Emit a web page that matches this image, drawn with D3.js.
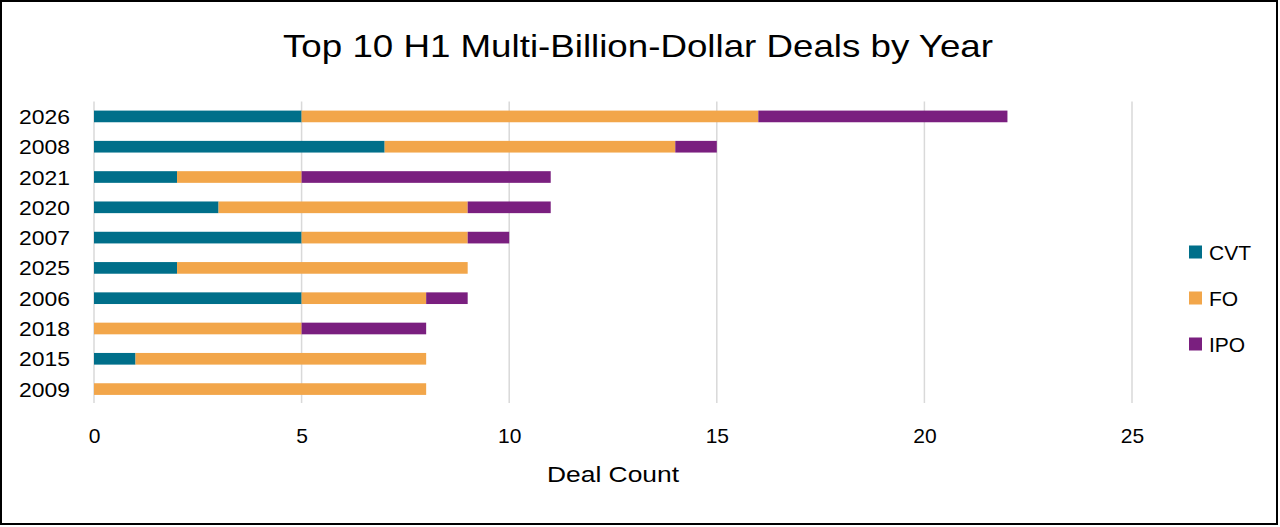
<!DOCTYPE html>
<html>
<head>
<meta charset="utf-8">
<script src="https://cdn.jsdelivr.net/npm/d3@7"></script>
<style>
  body { margin: 0; background: #fff; }
  svg text { font-family: "Liberation Sans", Arial, sans-serif; fill: #000; }
</style>
</head>
<body>
<div id="chart"></div>
<script>
const years = ["2026", "2008", "2021", "2020", "2007", "2025", "2006", "2018", "2015", "2009"]
const cvt = [5, 7, 2, 3, 5, 2, 5, 0, 1, 0]
const fo = [11, 7, 3, 6, 4, 7, 3, 5, 7, 8]
const ipo = [6, 1, 6, 2, 1, 0, 1, 3, 0, 0]
const seriesNames = ["CVT", "FO", "IPO"]
const seriesColors = ["#006F8A", "#F2A64A", "#7A1F7F"]
const xTicks = [0, 5, 10, 15, 20, 25]

const width = 1280, height = 527
const svg = d3.select("#chart").append("svg")
    .attr("width", width)
    .attr("height", height)

svg.append("rect")
    .attr("x", 1).attr("y", 1)
    .attr("width", 1276).attr("height", 523)
    .attr("fill", "#fff")
    .attr("stroke", "#000")
    .attr("stroke-width", 2)

const rows = years.map((y, i) => ({ year: y, CVT: cvt[i], FO: fo[i], IPO: ipo[i] }))
const stacked = d3.stack().keys(seriesNames)(rows)

const x = d3.scaleLinear().domain([0, 25]).range([94, 1132])
const y = d3.scaleBand().domain(years).range([101.5, 404]).paddingInner(0.615).paddingOuter(0.3)
const color = d3.scaleOrdinal().domain(seriesNames).range(seriesColors)

// gridlines
svg.append("g")
    .selectAll("line")
    .data(xTicks)
    .join("line")
    .attr("x1", d => x(d)).attr("x2", d => x(d))
    .attr("y1", 101.5).attr("y2", 403)
    .attr("stroke", "#d9d9d9")
    .attr("stroke-width", 1.5)

// bars
svg.append("g")
    .selectAll("g")
    .data(stacked)
    .join("g")
    .attr("fill", d => color(d.key))
    .selectAll("rect")
    .data(d => d)
    .join("rect")
    .attr("x", d => x(d[0]))
    .attr("y", d => y(d.data.year))
    .attr("width", d => x(d[1]) - x(d[0]))
    .attr("height", y.bandwidth())

// y axis labels
const yAxis = svg.append("g")
    .attr("transform", "translate(70,0)")
    .call(d3.axisLeft(y).tickSize(0).tickPadding(0))
yAxis.select(".domain").remove()
yAxis.selectAll("text")
    .style("font-size", "21px")
    .attr("textLength", 51)
    .attr("lengthAdjust", "spacingAndGlyphs")
    .attr("dy", "0.36em")

// x axis labels
const xAxis = svg.append("g")
    .attr("transform", "translate(0,443)")
    .call(d3.axisBottom(x).tickValues(xTicks).tickSize(0).tickPadding(0))
xAxis.select(".domain").remove()
xAxis.selectAll("text")
    .style("font-size", "21px")
    .attr("y", 0)
    .attr("dy", "0")

// title
svg.append("text")
    .attr("x", 638)
    .attr("y", 57)
    .attr("text-anchor", "middle")
    .attr("textLength", 710)
    .attr("lengthAdjust", "spacingAndGlyphs")
    .style("font-size", "32px")
    .text("Top 10 H1 Multi-Billion-Dollar Deals by Year")

// axis title
svg.append("text")
    .attr("x", 613)
    .attr("y", 482)
    .attr("text-anchor", "middle")
    .attr("textLength", 132)
    .attr("lengthAdjust", "spacingAndGlyphs")
    .style("font-size", "22px")
    .text("Deal Count")

// legend
const legend = svg.append("g")
    .selectAll("g")
    .data(seriesNames)
    .join("g")
    .attr("transform", (d, i) => "translate(1189," + (252 + i * 46) + ")")
legend.append("rect")
    .attr("x", 0).attr("y", -6.5)
    .attr("width", 13).attr("height", 13)
    .attr("fill", d => color(d))
legend.append("text")
    .attr("x", 20)
    .attr("dy", "0.36em")
    .style("font-size", "21px")
    .text(d => d)
</script>
</body>
</html>
